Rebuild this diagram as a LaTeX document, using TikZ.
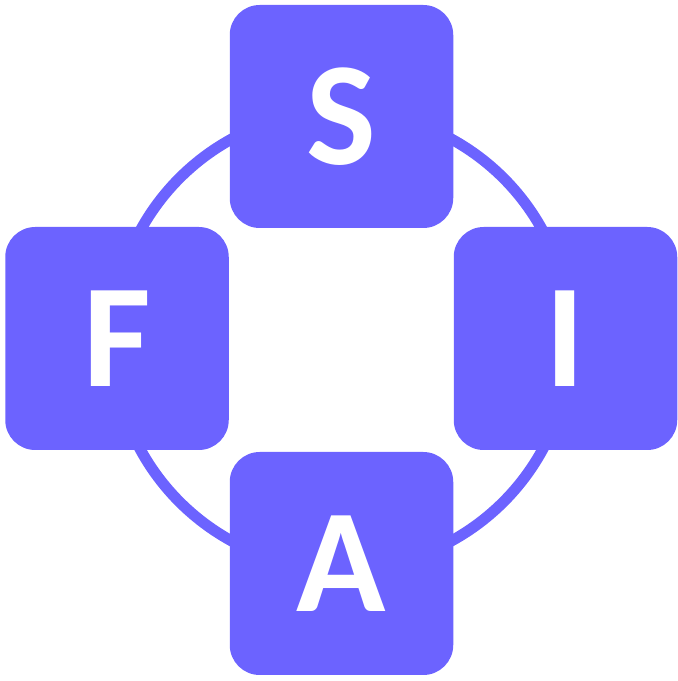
\documentclass[tikz,border=0pt]{standalone}
\usepackage{fontspec}
\setmainfont{Carlito}
\definecolor{brand}{HTML}{6C63FF}
\begin{document}
\begin{tikzpicture}[x=1pt,y=1pt,
  box/.style={fill=brand, draw=none, rounded corners=30pt, minimum width=223.5pt, minimum height=223pt, inner sep=0pt, text=white, font=\fontsize{147.5}{147.5}\selectfont\bfseries},
  ring/.style={draw=brand, line width=11pt}]
\useasboundingbox (0,0) rectangle (678,681);
\coordinate (c) at (341.5,341);
\draw[ring] (c) circle[radius=229];
\node[box] (S) at (341.5,564.5) {S};
\node[box] (F) at (117,342.5) {F};
\node[box] (I) at (565.5,342.5) {I};
\node[box] (A) at (341.5,117.5) {A};
\end{tikzpicture}
\end{document}
